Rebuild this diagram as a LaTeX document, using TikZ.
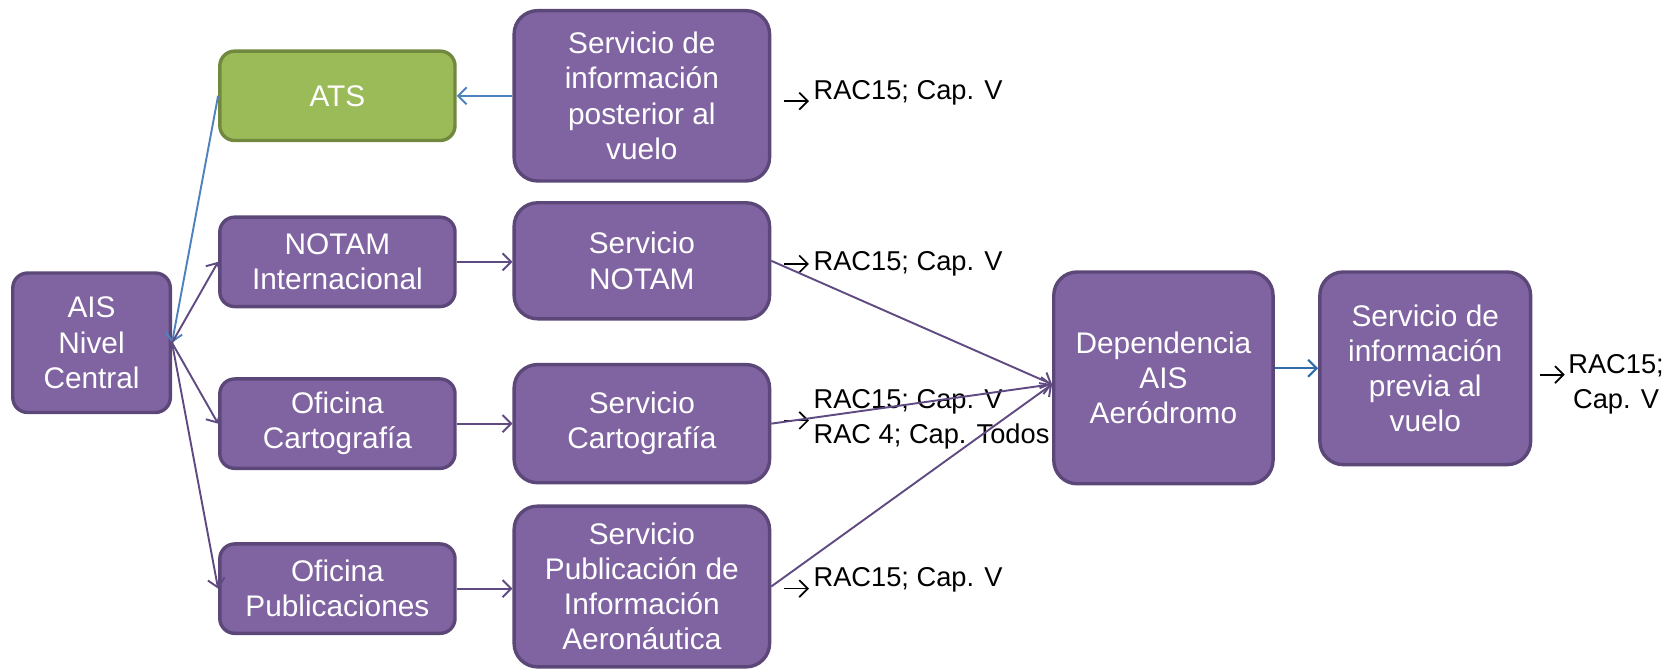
\documentclass[tikz,border=0pt]{standalone}
\usepackage{fontspec}
\setmainfont{Liberation Sans}
\usetikzlibrary{arrows.meta}
\definecolor{boxfill}{HTML}{8064A2}
\definecolor{boxline}{HTML}{5C4878}
\definecolor{atsfill}{HTML}{9BBB59}
\definecolor{atsline}{HTML}{71893F}
\definecolor{linkblue}{HTML}{4F81BD}
\definecolor{linkdark}{HTML}{2F6CA8}
\definecolor{linkpurple}{HTML}{5F4B82}
\begin{document}
\begin{tikzpicture}[x=0.5pt,y=-0.5pt,
  box/.style={draw=boxline, fill=boxfill, line width=1.6pt, rounded corners=7pt,
    text=white, align=center, inner sep=0pt, font=\fontsize{14}{16.5}\selectfont},
  bigbox/.style={box, rounded corners=11pt},
  smallbox/.style={box, minimum width=110.5pt, minimum height=42pt},
  atsbox/.style={smallbox, draw=atsline, fill=atsfill},
  lab/.style={anchor=west, align=left, inner sep=0pt, text=black,
    font=\fontsize{12.8}{16.5}\selectfont},
  tip/.style={-{Straight Barb[length=4pt,width=8pt]}},
  link/.style={tip, draw=linkpurple, line width=0.9pt},
  bluelink/.style={tip, draw=linkblue, line width=0.9pt},
  darklink/.style={tip, draw=linkdark, line width=1pt},
  pointer/.style={tip, draw=black, line width=0.8pt}
]
\useasboundingbox (0,0) rectangle (1568,629);

% boxes
\node[box, minimum width=74pt, minimum height=65.5pt] (ais) at (86,322) {AIS\\Nivel\\Central};
\node[atsbox] (ats) at (317,90) {ATS};
\node[smallbox] (notamint) at (317,246) {NOTAM\\Internacional};
\node[smallbox] (ofcart) at (317,398) {Oficina\\Cartografía};
\node[smallbox] (ofpub) at (317,553) {Oficina\\Publicaciones};
\node[bigbox, minimum width=120pt, minimum height=80pt] (post) at (603,90)
  {Servicio de\\información\\posterior al\\vuelo};
\node[bigbox, minimum width=120pt, minimum height=54.5pt] (snotam) at (603,245)
  {Servicio\\NOTAM};
\node[bigbox, minimum width=120pt, minimum height=55.5pt] (scart) at (603,398)
  {Servicio\\Cartografía};
\node[bigbox, minimum width=120pt, minimum height=75.5pt] (spub) at (603,551)
  {Servicio\\Publicación de\\Información\\Aeronáutica};
\node[bigbox, minimum width=103pt, minimum height=99.5pt] (dep) at (1093,355)
  {Dependencia\\AIS\\Aeródromo};
\node[bigbox, minimum width=99pt, minimum height=90.5pt] (previa) at (1339,346)
  {Servicio de\\información\\previa al\\vuelo};

% regulation references
\node[lab] (r1) at (764,87) {RAC15; Cap. V};
\node[lab] (r2) at (764,248) {RAC15; Cap. V};
\node[lab] (r3) at (764,394) {RAC15; Cap. V\\RAC 4; Cap. Todos};
\node[lab] (r4) at (764,545) {RAC15; Cap. V};
\node[lab, align=center] (r5) at (1473,361) {RAC15;\\Cap. V};

\coordinate (p1a) at (737,95);  \coordinate (p1b) at (760,95);
\coordinate (p2a) at (737,248); \coordinate (p2b) at (760,248);
\coordinate (p3a) at (737,395); \coordinate (p3b) at (760,395);
\coordinate (p4a) at (737,553); \coordinate (p4b) at (760,553);
\coordinate (p5a) at (1447,352); \coordinate (p5b) at (1470,352);
\foreach \i in {1,...,5} \draw[pointer] (p\i a) -- (p\i b);

% connectors
\draw[bluelink] (ats.west) -- (ais.east);
\draw[link] (ais.east) -- (notamint.west);
\draw[link] (ais.east) -- (ofcart.west);
\draw[link] (ais.east) -- (ofpub.west);
\draw[bluelink] (post.west) -- (ats.east);
\draw[link] (notamint.east) -- (snotam.west |- notamint.east);
\draw[link] (ofcart.east) -- (scart.west |- ofcart.east);
\draw[link] (ofpub.east) -- (spub.west |- ofpub.east);
\coordinate (depin) at ([yshift=-3pt]dep.west);
\draw[link] (snotam.east) -- (depin);
\draw[link] (scart.east) -- (depin);
\draw[link] (spub.east) -- (depin);
\draw[darklink] (dep.east |- previa.west) -- (previa.west);
\end{tikzpicture}
\end{document}
